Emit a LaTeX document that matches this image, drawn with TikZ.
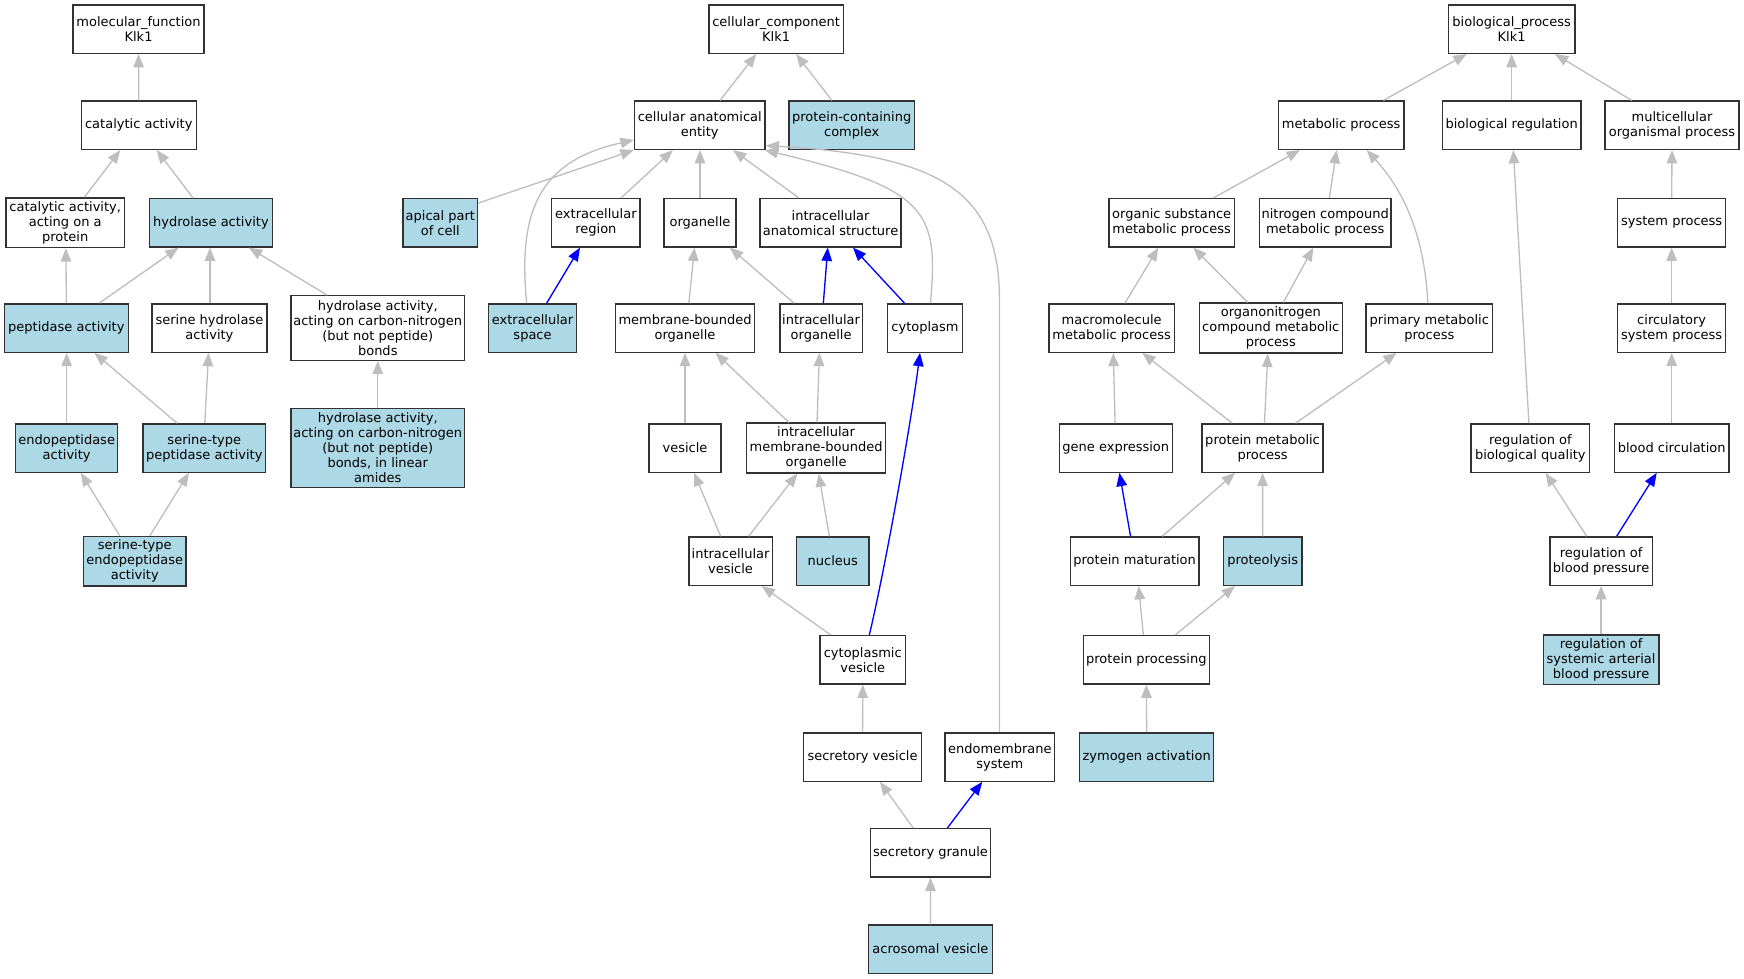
\documentclass[tikz,border=0pt]{standalone}
\usepackage{fontspec}
\setmainfont{DejaVu Sans}
\usetikzlibrary{arrows.meta}
\definecolor{edgegray}{RGB}{190,190,190}
\definecolor{lblue}{RGB}{173,216,230}
\definecolor{bordergray}{RGB}{50,50,50}
\newcommand\edgeup[5]{\draw[#1] ([xshift=#3]#2.north) -- ([xshift=#5]#4.south);}
\begin{document}
\begin{tikzpicture}[x=1pt,y=-1pt,
  box/.style={draw=bordergray, line width=1.2pt, fill=white, align=center, inner sep=0pt,
              font=\fontsize{11.7}{13.5}\selectfont, minimum height=43.5},
  bbox/.style={box, fill=lblue},
  hthree/.style={minimum height=44.8},
  hfour/.style={minimum height=58},
  hfive/.style={minimum height=71},
  ge/.style={draw=edgegray, line width=1.2pt, -{Triangle[length=12pt,width=9.5pt]}},
  be/.style={draw=blue, line width=1.2pt, -{Triangle[length=12pt,width=9.5pt]}},
]
\useasboundingbox (0,0) rectangle (1569.6,881.1);
% ---------------- molecular function ----------------
\node[box, minimum width=118] (mf) at (124.7,26.3) {molecular\_function\\Klk1};
\node[box, minimum width=103.7] (catact) at (124.9,112.7) {catalytic activity};
\node[box, hthree, minimum width=106.7] (catprot) at (58.7,200.5) {catalytic activity,\\acting on a\\protein};
\node[bbox, minimum width=111] (hydro) at (189.8,200.5) {hydrolase activity};
\node[bbox, minimum width=111.3] (pept) at (59.7,295.2) {peptidase activity};
\node[box, minimum width=103.6] (serhyd) at (188.5,295.2) {serine hydrolase\\activity};
\node[box, hfour, minimum width=156] (hydcn) at (340,295.2) {hydrolase activity,\\acting on carbon-nitrogen\\(but not peptide)\\bonds};
\node[bbox, minimum width=92] (endopep) at (60,403.2) {endopeptidase\\activity};
\node[bbox, minimum width=110.3] (serpep) at (183.9,403.2) {serine-type\\peptidase activity};
\node[bbox, hfive, minimum width=156] (hydcnlin) at (340,403.2) {hydrolase activity,\\acting on carbon-nitrogen\\(but not peptide)\\bonds, in linear\\amides};
\node[bbox, hthree, minimum width=92] (serendo) at (121.3,505) {serine-type\\endopeptidase\\activity};
% ---------------- cellular component ----------------
\node[box, minimum width=121] (cc) at (698.5,26.3) {cellular\_component\\Klk1};
\node[box, minimum width=117.5] (cae) at (629.8,112.7) {cellular anatomical\\entity};
\node[bbox, minimum width=113] (pcc) at (766.5,112.7) {protein-containing\\complex};
\node[bbox, minimum width=67.3] (apical) at (396.3,200.5) {apical part\\of cell};
\node[box, minimum width=79.5] (er) at (536.3,200.5) {extracellular\\region};
\node[box, minimum width=64.8] (organelle) at (630,200.5) {organelle};
\node[box, minimum width=127] (ias) at (747.5,200.5) {intracellular\\anatomical structure};
\node[bbox, minimum width=79.3] (es) at (479.3,295.2) {extracellular\\space};
\node[box, minimum width=125] (mbo) at (616.5,295.2) {membrane-bounded\\organelle};
\node[box, minimum width=74] (io) at (739,295.2) {intracellular\\organelle};
\node[box, minimum width=67] (cyto) at (832.5,295.2) {cytoplasm};
\node[box, minimum width=65] (vesicle) at (616.5,403.2) {vesicle};
\node[box, hthree, minimum width=125] (imbo) at (734.5,403.2) {intracellular\\membrane-bounded\\organelle};
\node[box, minimum width=75] (iv) at (657.5,505) {intracellular\\vesicle};
\node[bbox, minimum width=65] (nucleus) at (749.5,505) {nucleus};
\node[box, minimum width=77] (cv) at (776.5,593.8) {cytoplasmic\\vesicle};
\node[box, minimum width=106] (sv) at (776.3,681.3) {secretory vesicle};
\node[box, minimum width=98.7] (ems) at (899.9,681.3) {endomembrane\\system};
\node[box, minimum width=108.3] (sg) at (837.5,767.6) {secretory granule};
\node[bbox, minimum width=111.2] (av) at (837.4,854.2) {acrosomal vesicle};
% ---------------- biological process ----------------
\node[box, minimum width=114] (bp) at (1360.5,26.3) {biological\_process\\Klk1};
\node[box, minimum width=113] (mp) at (1207,112.7) {metabolic process};
\node[box, minimum width=125] (br) at (1360.5,112.7) {biological regulation};
\node[box, minimum width=120.5] (mop) at (1504.8,112.7) {multicellular\\organismal process};
\node[box, minimum width=113] (osmp) at (1054.5,200.5) {organic substance\\metabolic process};
\node[box, minimum width=118.6] (ncmp) at (1192.7,200.5) {nitrogen compound\\metabolic process};
\node[box, minimum width=97] (sp) at (1504.5,200.5) {system process};
\node[box, minimum width=113] (mmp) at (1000.5,295.2) {macromolecule\\metabolic process};
\node[box, hthree, minimum width=128.6] (oncmp) at (1143.7,295.2) {organonitrogen\\compound metabolic\\process};
\node[box, minimum width=114] (pmp) at (1286.4,295.2) {primary metabolic\\process};
\node[box, minimum width=97] (csp) at (1504.5,295.2) {circulatory\\system process};
\node[box, minimum width=101.6] (gexp) at (1004.2,403.2) {gene expression};
\node[box, minimum width=109] (pmetp) at (1136.3,403.2) {protein metabolic\\process};
\node[box, minimum width=106.6] (rbq) at (1377.3,403.2) {regulation of\\biological quality};
\node[box, minimum width=103] (bc) at (1504.5,403.2) {blood circulation};
\node[box, minimum width=115.7] (pm) at (1021.2,505) {protein maturation};
\node[bbox, minimum width=70.7] (prot) at (1136.4,505) {proteolysis};
\node[box, minimum width=92] (rbp) at (1441,505) {regulation of\\blood pressure};
\node[box, minimum width=113.4] (pp) at (1031.7,593.8) {protein processing};
\node[bbox, hthree, minimum width=104] (rsabp) at (1441,593.8) {regulation of\\systemic arterial\\blood pressure};
\node[bbox, minimum width=120.6] (za) at (1032,681.3) {zymogen activation};
% ---------------- edges: molecular function ----------------
\edgeup{ge}{catact}{0}{mf}{0}
\edgeup{ge}{catprot}{17.3}{catact}{-16.6}
\edgeup{ge}{hydro}{-16.1}{catact}{16.1}
\edgeup{ge}{pept}{0}{catprot}{0.6}
\edgeup{ge}{pept}{29.6}{hydro}{-29.1}
\edgeup{ge}{serhyd}{0.5}{hydro}{-0.8}
\edgeup{ge}{hydcn}{-45.7}{hydro}{34.2}
\edgeup{ge}{endopep}{0}{pept}{0.3}
\edgeup{ge}{serpep}{-24.6}{pept}{25.3}
\edgeup{ge}{serpep}{0.4}{serhyd}{-0.8}
\edgeup{ge}{hydcnlin}{0}{hydcn}{0}
\edgeup{ge}{serendo}{-13.6}{endopep}{12.7}
\edgeup{ge}{serendo}{13.7}{serpep}{-13.9}
% ---------------- edges: cellular component ----------------
\edgeup{ge}{cae}{18.2}{cc}{-17.9}
\edgeup{ge}{pcc}{-17.8}{cc}{18}
\draw[ge] ([yshift=-4.6]apical.north east) -- (cae.south west);
\draw[ge] ([xshift=-5.3]es.north) .. controls (466,190) and (485,145) .. ([yshift=-13.3]cae.west);
\edgeup{ge}{er}{22.7}{cae}{-24.2}
\edgeup{ge}{organelle}{0}{cae}{0.2}
\edgeup{ge}{ias}{-28.5}{cae}{29.9}
\draw[ge] ([xshift=4.9]cyto.north) .. controls (845,190) and (835,170) .. ([xshift=-1]cae.south east);
\draw[ge] ([xshift=-0.4]ems.north) -- (899.5,270) .. controls (899.5,175) and (850,140) .. ([yshift=4]cae.south east);
\edgeup{be}{es}{12.7}{er}{-14.3}
\edgeup{ge}{mbo}{3.5}{organelle}{-5}
\edgeup{ge}{io}{-24.4}{organelle}{27}
\edgeup{be}{io}{2}{ias}{-2.5}
\edgeup{be}{cyto}{-18.5}{ias}{20.2}
\draw[be] ([xshift=5.9]cv.north) .. controls (797,510) and (820,380) .. ([xshift=-4.5]cyto.south);
\edgeup{ge}{vesicle}{0}{mbo}{0}
\edgeup{ge}{imbo}{-24.5}{mbo}{27.5}
\edgeup{ge}{imbo}{0.8}{io}{-1.5}
\edgeup{ge}{iv}{-8.9}{vesicle}{8.1}
\edgeup{ge}{iv}{16.3}{imbo}{-16.9}
\edgeup{ge}{nucleus}{-3.1}{imbo}{2.3}
\edgeup{ge}{cv}{-28.9}{iv}{28}
\edgeup{ge}{sv}{0}{cv}{0}
\edgeup{ge}{sg}{-15.5}{sv}{15.7}
\edgeup{be}{sg}{15.1}{ems}{-15.9}
\edgeup{ge}{av}{0}{sg}{0}
% ---------------- edges: biological process ----------------
\edgeup{ge}{mp}{38}{bp}{-40.5}
\edgeup{ge}{br}{0}{bp}{0}
\edgeup{ge}{mop}{-36.3}{bp}{39}
\edgeup{ge}{osmp}{37.5}{mp}{-37}
\edgeup{ge}{ncmp}{3.7}{mp}{-4}
\draw[ge] ([xshift=-1.4]pmp.north) .. controls (1282,210) and (1262,170) .. ([xshift=23]mp.south);
\edgeup{ge}{sp}{0}{mop}{0}
\edgeup{ge}{csp}{0}{sp}{0}
\edgeup{ge}{mmp}{12}{osmp}{-12}
\edgeup{ge}{oncmp}{-20.7}{osmp}{19.5}
\edgeup{ge}{oncmp}{11.3}{ncmp}{-10.7}
\edgeup{ge}{gexp}{-0.6}{mmp}{1.5}
\edgeup{ge}{pmetp}{-27.3}{mmp}{27.5}
\edgeup{ge}{pmetp}{1.7}{oncmp}{-2.7}
\edgeup{ge}{pmetp}{29.7}{pmp}{-29.4}
\edgeup{ge}{rbq}{-1.3}{br}{1.5}
\edgeup{ge}{bc}{0}{csp}{0}
\edgeup{be}{pm}{-3.7}{gexp}{3.3}
\edgeup{ge}{pm}{24.8}{pmetp}{-24.8}
\edgeup{ge}{prot}{0}{pmetp}{0}
\edgeup{ge}{rbp}{-13}{rbq}{13.7}
\edgeup{be}{rbp}{14}{bc}{-13.5}
\edgeup{ge}{pp}{-2.7}{pm}{3.5}
\edgeup{ge}{pp}{26}{prot}{-24.9}
\edgeup{ge}{rsabp}{0}{rbp}{0}
\edgeup{ge}{za}{0}{pp}{0}
\end{tikzpicture}
\end{document}
